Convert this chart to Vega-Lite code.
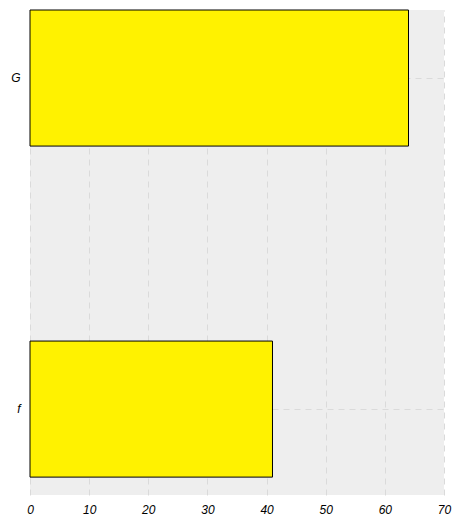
{
  "$schema": "https://vega.github.io/schema/vega-lite/v6.json",
  "width": 414,
  "height": 485,
  "autosize": "none",
  "padding": {"left": 30, "top": 10, "right": 18, "bottom": 33},
  "background": "white",
  "config": {
    "view": {"fill": "#eeeeee", "stroke": null},
    "axis": {
      "labelFont": "Liberation Sans",
      "labelFontStyle": "italic",
      "labelFontSize": 12,
      "labelColor": "#000000",
      "domain": false,
      "ticks": false,
      "grid": true,
      "gridColor": "#dadada",
      "gridDash": [6, 5],
      "gridWidth": 1,
      "title": null
    }
  },
  "data": {
    "values": [
      {"category": "G", "value": 64},
      {"category": "f", "value": 41}
    ]
  },
  "mark": {"type": "bar", "fill": "#fff200", "stroke": "#000000", "strokeWidth": 1},
  "encoding": {
    "y": {
      "field": "category",
      "type": "nominal",
      "sort": ["G", "f"],
      "scale": {"paddingInner": 0.589, "paddingOuter": 0.027, "align": 0},
      "axis": {"labelPadding": 10}
    },
    "x": {
      "field": "value",
      "type": "quantitative",
      "scale": {"domain": [0, 70], "nice": false},
      "axis": {"values": [0, 10, 20, 30, 40, 50, 60, 70], "labelPadding": 9, "labelFlush": false}
    }
  }
}
